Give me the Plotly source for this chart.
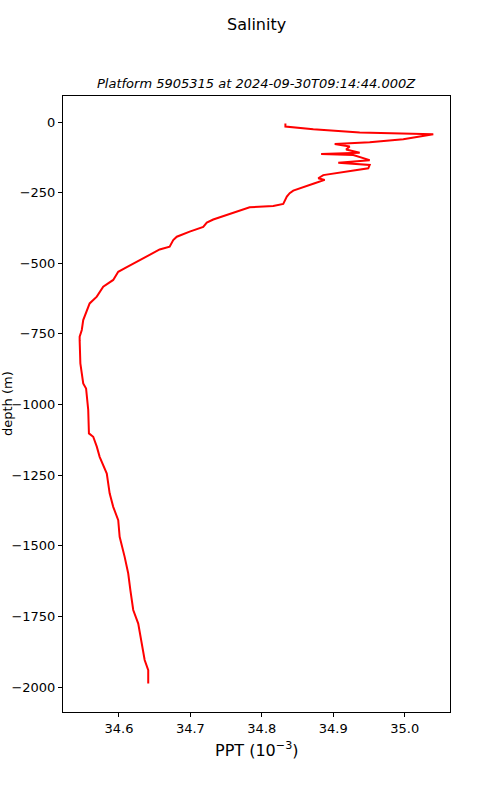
import plotly.graph_objects as go

salinity = [34.833, 34.833, 34.872, 34.937, 35.040, 34.998, 34.951, 34.902, 34.923, 34.918,
            34.937, 34.883, 34.928, 34.951, 34.907, 34.951, 34.949, 34.928, 34.886, 34.879,
            34.888, 34.874, 34.858, 34.844, 34.839, 34.835, 34.830, 34.816, 34.783, 34.769,
            34.751, 34.732, 34.723, 34.718, 34.699, 34.681, 34.676, 34.671, 34.657, 34.643,
            34.625, 34.611, 34.599, 34.592, 34.578, 34.569, 34.559, 34.550, 34.548, 34.545,
            34.545, 34.546, 34.550, 34.554, 34.557, 34.558, 34.564, 34.569, 34.573, 34.583,
            34.587, 34.592, 34.599, 34.601, 34.608, 34.613, 34.616, 34.620, 34.627, 34.632,
            34.636, 34.641, 34.641]
depth = [-5, -16, -26, -37, -43.5, -61, -72, -78, -87, -97,
         -109, -113, -117, -135, -144, -152, -164, -172, -188, -199,
         -205, -217, -231, -243, -252, -264, -290, -297, -302, -314,
         -329, -345, -356, -371, -388, -406, -418, -441, -451, -471,
         -495, -514, -530, -559, -583, -618, -642, -701, -736, -760,
         -772, -854, -925, -943, -1019, -1102, -1114, -1149, -1185, -1244,
         -1314, -1362, -1409, -1468, -1539, -1598, -1657, -1727, -1775, -1845,
         -1904, -1940, -1987]

x_ticks = [34.6, 34.7, 34.8, 34.9, 35.0]
y_ticks = [0, -250, -500, -750, -1000, -1250, -1500, -1750, -2000]

fig = go.Figure()
fig.add_trace(go.Scatter(x=salinity, y=depth, mode="lines",
                         line=dict(color="red", width=2), showlegend=False))

font = "DejaVu Sans, Arial, sans-serif"
ML, MR, MT, MB = 63, 50, 96, 88
plot_h = 800 - MT - MB
fig.update_layout(
    width=500, height=800,
    margin=dict(l=ML, r=MR, t=MT, b=MB, autoexpand=False),
    paper_bgcolor="white", plot_bgcolor="white",
    font=dict(family=font, size=13, color="black"),
    xaxis=dict(range=[34.5217, 35.0634], tickvals=x_ticks,
               ticktext=[f"{v:.1f}" for v in x_ticks], automargin=False,
               showgrid=False, zeroline=False, showline=True, linecolor="black",
               linewidth=1, mirror=True, ticks="outside", ticklen=4,
               tickcolor="black", tickfont=dict(size=13)),
    yaxis=dict(range=[-2088, 92], tickvals=y_ticks, automargin=False,
               showgrid=False, zeroline=False, showline=True, linecolor="black",
               linewidth=1, mirror=True, ticks="outside", ticklen=4,
               tickcolor="black", tickfont=dict(size=13)),
    annotations=[
        dict(text="Salinity", x=0.5, y=1 + (MT - 24) / plot_h, xref="paper", yref="paper",
             showarrow=False, font=dict(size=16), yanchor="middle"),
        dict(text="<i>Platform 5905315 at 2024-09-30T09:14:44.000Z</i>", x=0.5, xref="paper",
             yref="paper", y=1.0, yanchor="bottom", yshift=3, showarrow=False,
             font=dict(size=13)),
        dict(text="PPT (10<sup>−3</sup>)", x=0.5, xref="paper", yref="paper", y=0,
             yanchor="top", yshift=-25, showarrow=False, font=dict(size=16)),
        dict(text="depth (m)", x=0, xref="paper", y=0.5, yref="paper", xanchor="center",
             xshift=-56, textangle=-90, showarrow=False, font=dict(size=13)),
    ],
)
fig.write_html("out.html", config={"displayModeBar": False},
               post_script="document.body.style.margin='0';")
